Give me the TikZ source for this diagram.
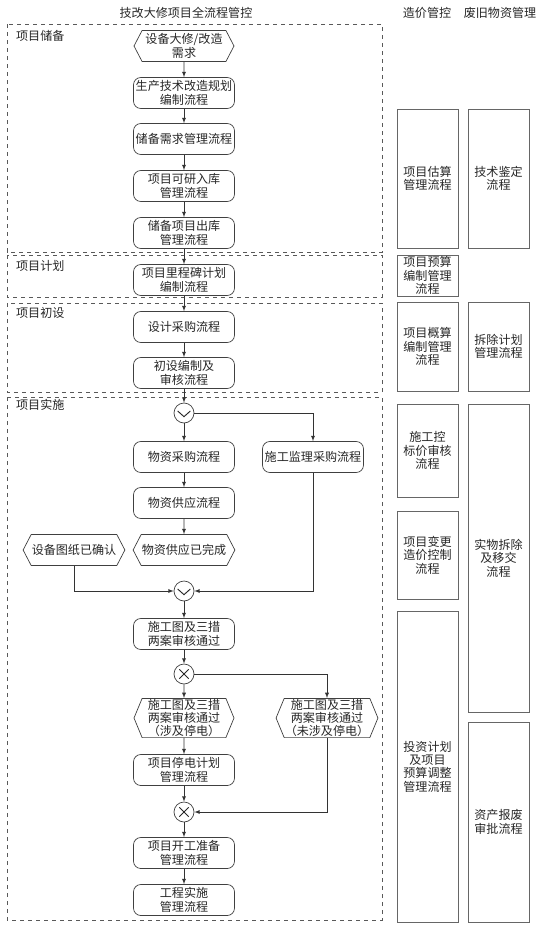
\documentclass[tikz,border=0pt]{standalone}
\usepackage{fontspec}
\setmainfont{Noto Sans CJK SC}
\usetikzlibrary{arrows,shapes.symbols}

\begin{document}
\begin{tikzpicture}[x=0.3mm,y=-0.3mm]

    % --- Styles ---
    \tikzset{
        every node/.style={font=\fontsize{10.3pt}{11.4pt}\selectfont, text=black!85},
        proc/.style={draw=black!75, line width=0.6pt, rounded corners=2.2mm, minimum width=30.3mm, minimum height=9.3mm, inner sep=0.5pt, align=center},
        evt/.style={draw=black!75, line width=0.6pt, signal, signal to=west and east, signal pointer angle=125, minimum width=30mm, minimum height=9.3mm, inner sep=0.5pt, align=center},
        sidebox/.style={draw=black!60, line width=0.6pt, minimum width=18.3mm, inner sep=1pt, align=center},
        stage/.style={draw=black!65, line width=0.6pt, dash pattern=on 1.3mm off 1.1mm},
        stagelabel/.style={anchor=west},
        gate/.style={circle, draw=black!75, line width=0.6pt, minimum size=6mm, inner sep=0pt},
        gateor/.style={gate, path picture={
            \draw[black!85, line width=0.8pt] ([shift={(-1.9mm,0.6mm)}]path picture bounding box.center)
                -- ([shift={(0mm,-1.1mm)}]path picture bounding box.center)
                -- ([shift={(1.9mm,0.6mm)}]path picture bounding box.center);}},
        gatexor/.style={gate, path picture={
            \draw[black!85, line width=0.8pt] ([shift={(-1.4mm,-1.4mm)}]path picture bounding box.center)
                -- ([shift={(1.4mm,1.4mm)}]path picture bounding box.center);
            \draw[black!85, line width=0.8pt] ([shift={(-1.4mm,1.4mm)}]path picture bounding box.center)
                -- ([shift={(1.4mm,-1.4mm)}]path picture bounding box.center);}},
        flow/.style={draw=black!80, line width=0.6pt, -latex}
    }

    \useasboundingbox (0,0) rectangle (542,929);

    % --- 1. Spaltentitel ---
    \node (ttlmain) at (186,13) {技改大修项目全流程管控};
    \node (ttlcost) at (427,13) {造价管控};
    \node (ttlwaste) at (500,13) {废旧物资管理};

    % --- 2. Phasen (gestrichelt) ---
    \draw[stage] (7,24) rectangle (382,252);
    \draw[stage] (7,255) rectangle (382,297);
    \draw[stage] (7,303) rectangle (382,392);
    \draw[stage] (7,397) rectangle (382,920);

    \node[stagelabel] (lblstore) at (12,36) {项目储备};
    \node[stagelabel] (lblplan) at (12,266) {项目计划};
    \node[stagelabel] (lbldesign) at (12,313) {项目初设};
    \node[stagelabel] (lblbuild) at (12,405) {项目实施};

    % --- 3. Hauptablauf ---
    \node[evt] (demand) at (184,46) {设备大修/改造\\需求};
    \node[proc] (techplan) at (184,93) {生产技术改造规划\\编制流程};
    \node[proc] (storemgmt) at (184,139) {储备需求管理流程};
    \node[proc] (feasible) at (184,186) {项目可研入库\\管理流程};
    \node[proc] (release) at (184,233) {储备项目出库\\管理流程};
    \node[proc] (milestone) at (184,280) {项目里程碑计划\\编制流程};
    \node[proc] (designbuy) at (184,327) {设计采购流程};
    \node[proc] (prelim) at (184,373) {初设编制及\\审核流程};

    \node[gateor] (split) at (184,413) {};
    \node[proc] (matbuy) at (184,457) {物资采购流程};
    \node[proc] (supbuy) at (313,457) {施工监理采购流程};
    \node[proc] (matsupply) at (184,503) {物资供应流程};
    \node[evt] (matdone) at (184,550) {物资供应已完成};
    \node[evt] (drawok) at (74,550) {设备图纸已确认};
    \node[gateor] (join) at (184,591) {};

    \node[proc] (review) at (184,634) {施工图及三措\\两案审核通过};
    \node[gatexor] (choice) at (184,674) {};
    \node[evt, minimum height=11.7mm, signal pointer angle=135] (outage) at (184,718) {施工图及三措\\两案审核通过\\（涉及停电）};
    \node[evt, minimum height=11.7mm, signal pointer angle=135] (nooutage) at (327,718) {施工图及三措\\两案审核通过\\（未涉及停电）};
    \node[proc] (outageplan) at (184,770) {项目停电计划\\管理流程};
    \node[gatexor] (merge) at (184,812) {};
    \node[proc] (prepare) at (184,853) {项目开工准备\\管理流程};
    \node[proc] (execute) at (184,900) {工程实施\\管理流程};

    % --- 4. Pfeile ---
    \draw[flow] (demand) -- (techplan);
    \draw[flow] (techplan) -- (storemgmt);
    \draw[flow] (storemgmt) -- (feasible);
    \draw[flow] (feasible) -- (release);
    \draw[flow] (release) -- (milestone);
    \draw[flow] (milestone) -- (designbuy);
    \draw[flow] (designbuy) -- (prelim);
    \draw[flow] (prelim) -- (split);
    \draw[flow] (split) -- (matbuy);
    \draw[flow] (split.east) -| (supbuy.north);
    \draw[flow] (matbuy) -- (matsupply);
    \draw[flow] (matsupply) -- (matdone);
    \draw[flow] (drawok.south) |- (join.west);
    \draw[flow] (supbuy.south) |- (join.east);
    \draw[flow] (join) -- (review);
    \draw[flow] (review) -- (choice);
    \draw[flow] (choice) -- (outage);
    \draw[flow] (choice.east) -| (nooutage.north);
    \draw[flow] (outage) -- (outageplan);
    \draw[flow] (outageplan) -- (merge);
    \draw[flow] (nooutage.south) |- (merge.east);
    \draw[flow] (merge) -- (prepare);
    \draw[flow] (prepare) -- (execute);

    % --- 5. 造价管控 ---
    \node[sidebox, minimum height=41.7mm] (estimate) at (427.5,178.5) {项目估算\\管理流程};
    \node[sidebox, minimum height=12.3mm] (budget) at (427.5,275.5) {项目预算\\编制管理\\流程};
    \node[sidebox, minimum height=26.7mm] (approx) at (427.5,346.5) {项目概算\\编制管理\\流程};
    \node[sidebox, minimum height=27.9mm] (tender) at (427.5,450.5) {施工控\\标价审核\\流程};
    \node[sidebox, minimum height=26.4mm] (change) at (427.5,555) {项目变更\\造价控制\\流程};
    \node[sidebox, minimum height=93.3mm] (invest) at (427.5,766.5) {投资计划\\及项目\\预算调整\\管理流程};

    % --- 6. 废旧物资管理 ---
    \node[sidebox, minimum height=41.7mm] (appraise) at (498.5,178.5) {技术鉴定\\流程};
    \node[sidebox, minimum height=26.7mm] (removeplan) at (498.5,346.5) {拆除计划\\管理流程};
    \node[sidebox, minimum height=92.4mm] (removal) at (498.5,558) {实物拆除\\及移交\\流程};
    \node[sidebox, minimum height=60mm] (scrap) at (498.5,822) {资产报废\\审批流程};

\end{tikzpicture}
\end{document}
